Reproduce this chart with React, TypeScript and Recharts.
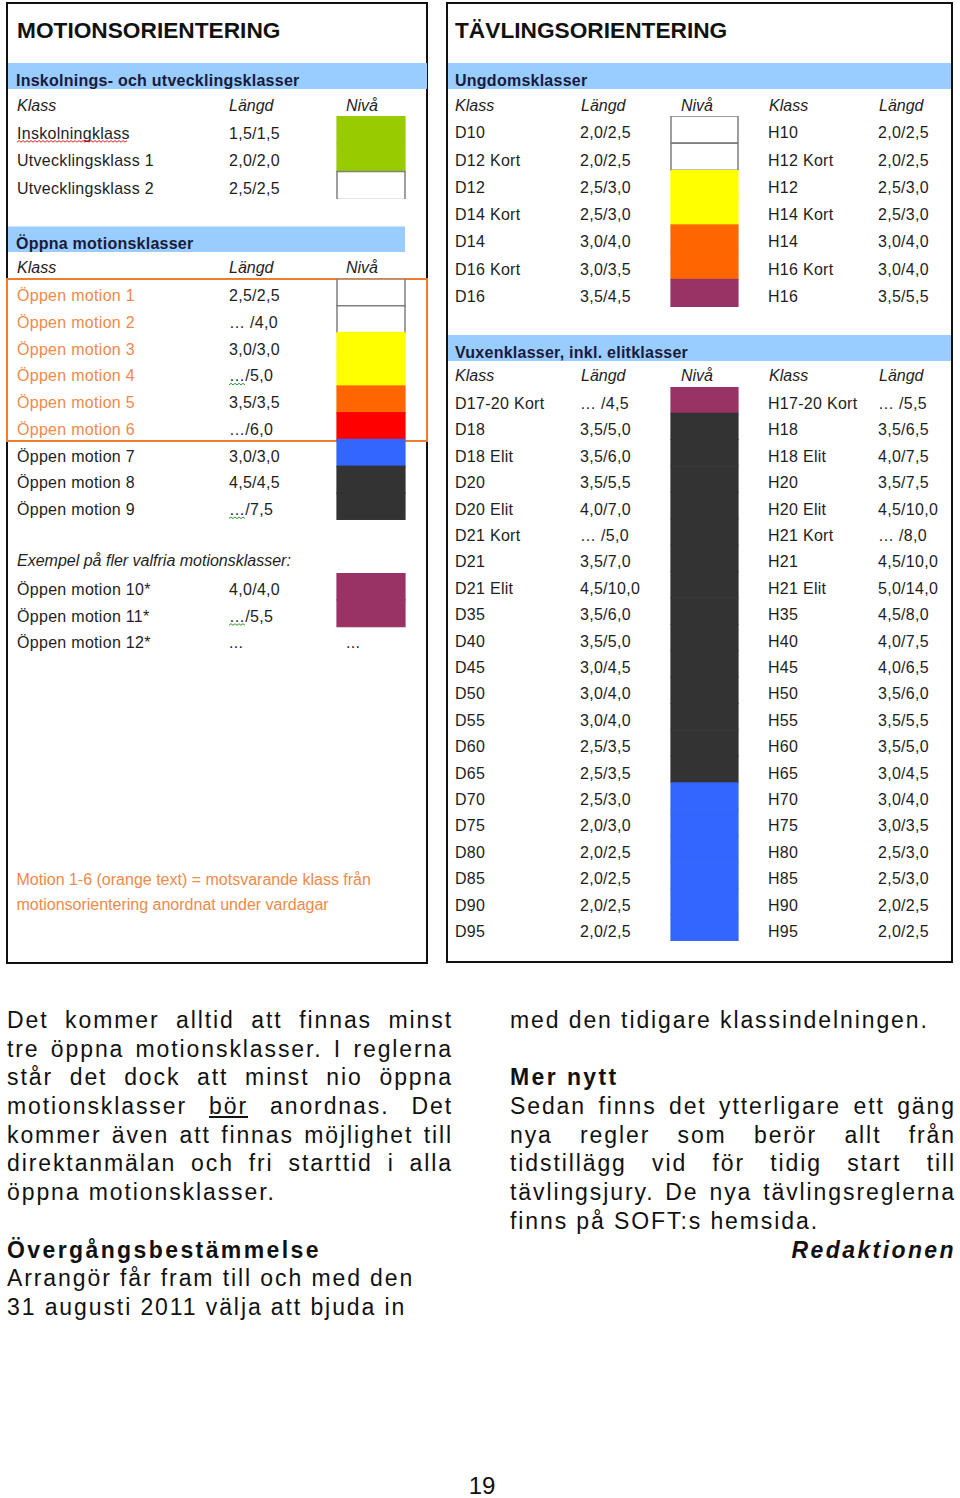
import React from 'react';
import { BarChart, Bar, XAxis, YAxis } from 'recharts';

const FONT = '"Liberation Sans", Arial, sans-serif';
const INK = '#1e1e1e';
const BAND_INK = '#1a1a3a';
const ORANGE_TEXT = '#ee8a4a';
const ORANGE_LINE = '#ed7d31';
const BAND = '#99ccff';

const nivaFarger: Record<string, string> = {
  vit: '#ffffff',
  gron: '#99cc00',
  gul: '#ffff00',
  orange: '#ff6600',
  rod: '#ff0000',
  bla: '#3366ff',
  svart: '#333333',
  lila: '#993366',
};

// Inskolnings- och utvecklingsklasser
const inskolKlass = ['Inskolningklass', 'Utvecklingsklass 1', 'Utvecklingsklass 2'];
const inskolLangd = ['1,5/1,5', '2,0/2,0', '2,5/2,5'];
const inskolNiva = ['gron', 'gron', 'vit'];

// Öppna motionsklasser
const oppnaKlass = [
  'Öppen motion 1', 'Öppen motion 2', 'Öppen motion 3', 'Öppen motion 4', 'Öppen motion 5',
  'Öppen motion 6', 'Öppen motion 7', 'Öppen motion 8', 'Öppen motion 9',
];
const oppnaLangd = ['2,5/2,5', '… /4,0', '3,0/3,0', '…/5,0', '3,5/3,5', '…/6,0', '3,0/3,0', '4,5/4,5', '…/7,5'];
const oppnaNiva = ['vit', 'vit', 'gul', 'gul', 'orange', 'rod', 'bla', 'svart', 'svart'];
const oppnaOrange = [true, true, true, true, true, true, false, false, false];
const oppnaVagig = [false, false, false, true, false, false, false, false, true];

// Exempel på fler valfria motionsklasser
const valfriaKlass = ['Öppen motion 10*', 'Öppen motion 11*', 'Öppen motion 12*'];
const valfriaLangd = ['4,0/4,0', '…/5,5', '...'];
const valfriaNiva: (string | null)[] = ['lila', 'lila', null];
const valfriaVagig = [false, true, false];

// Ungdomsklasser
const ungDKlass = ['D10', 'D12 Kort', 'D12', 'D14 Kort', 'D14', 'D16 Kort', 'D16'];
const ungDLangd = ['2,0/2,5', '2,0/2,5', '2,5/3,0', '2,5/3,0', '3,0/4,0', '3,0/3,5', '3,5/4,5'];
const ungNiva = ['vit', 'vit', 'gul', 'gul', 'orange', 'orange', 'lila'];
const ungHKlass = ['H10', 'H12 Kort', 'H12', 'H14 Kort', 'H14', 'H16 Kort', 'H16'];
const ungHLangd = ['2,0/2,5', '2,0/2,5', '2,5/3,0', '2,5/3,0', '3,0/4,0', '3,0/4,0', '3,5/5,5'];

// Vuxenklasser, inkl. elitklasser
const vuxDKlass = [
  'D17-20 Kort', 'D18', 'D18 Elit', 'D20', 'D20 Elit', 'D21 Kort', 'D21', 'D21 Elit', 'D35', 'D40', 'D45',
  'D50', 'D55', 'D60', 'D65', 'D70', 'D75', 'D80', 'D85', 'D90', 'D95',
];
const vuxDLangd = [
  '… /4,5', '3,5/5,0', '3,5/6,0', '3,5/5,5', '4,0/7,0', '… /5,0', '3,5/7,0', '4,5/10,0', '3,5/6,0', '3,5/5,0', '3,0/4,5',
  '3,0/4,0', '3,0/4,0', '2,5/3,5', '2,5/3,5', '2,5/3,0', '2,0/3,0', '2,0/2,5', '2,0/2,5', '2,0/2,5', '2,0/2,5',
];
const vuxNiva = [
  'lila', 'svart', 'svart', 'svart', 'svart', 'svart', 'svart', 'svart', 'svart', 'svart', 'svart',
  'svart', 'svart', 'svart', 'svart', 'bla', 'bla', 'bla', 'bla', 'bla', 'bla',
];
const vuxHKlass = [
  'H17-20 Kort', 'H18', 'H18 Elit', 'H20', 'H20 Elit', 'H21 Kort', 'H21', 'H21 Elit', 'H35', 'H40', 'H45',
  'H50', 'H55', 'H60', 'H65', 'H70', 'H75', 'H80', 'H85', 'H90', 'H95',
];
const vuxHLangd = [
  '… /5,5', '3,5/6,5', '4,0/7,5', '3,5/7,5', '4,5/10,0', '… /8,0', '4,5/10,0', '5,0/14,0', '4,5/8,0', '4,0/7,5', '4,0/6,5',
  '3,5/6,0', '3,5/5,5', '3,5/5,0', '3,0/4,5', '3,0/4,0', '3,0/3,5', '2,5/3,0', '2,5/3,0', '2,0/2,5', '2,0/2,5',
];

type Wavy = { color: string; width: number };
type TextCell = { x: number; text: string; fill?: string; wavy?: Wavy };
type Row = { key: string; cells: TextCell[]; niva: string | null };

// text columns
const L_KLASS = 17;
const L_LANGD = 229;
const L_NIVA = 346;
const R_DKLASS = 455;
const R_DLANGD = 580;
const R_HKLASS = 768;
const R_HLANGD = 878;

const RED_WAVE = '#e02020';
const GREEN_WAVE = '#2e9a2e';

// small zigzag like a spell-check mark
function squiggle(x: number, y: number, w: number) {
  let d = `M${x},${y}`;
  let up = true;
  for (let px = x + 2; px <= x + w; px += 2) {
    d += ` L${px},${up ? y - 1.6 : y}`;
    up = !up;
  }
  return d;
}

function CellText({ c, y }: { c: TextCell; y: number }) {
  const style = { fontFamily: FONT, fontSize: 16, letterSpacing: '0.3px' };
  return (
    <g>
      <text x={c.x} y={y} fill={c.fill || INK} style={style}>
        {c.text}
      </text>
      {c.wavy && <path d={squiggle(c.x, y + 3.5, c.wavy.width)} fill="none" stroke={c.wavy.color} strokeWidth={1} />}
    </g>
  );
}

function NivaShape(props: any) {
  const { x, y, width, height, payload } = props;
  if (!payload || !payload.niva) return <g />;
  const fill = nivaFarger[payload.niva];
  const white = payload.niva === 'vit';
  if (white) {
    return <rect x={x} y={y} width={width} height={height} fill={fill} stroke="#7f7f7f" strokeWidth={1.5} />;
  }
  // colored cells: same-colour stroke hides the seams between neighbouring rows
  return <rect x={x} y={y} width={width} height={height} fill={fill} stroke={fill} strokeWidth={1.2} />;
}

function LevelSection({
  rows, top, height, width, nivaLeft, nivaRight,
}: {
  rows: Row[]; top: number; height: number; width: number; nivaLeft: number; nivaRight: number;
}) {
  const data = rows.map(r => ({ key: r.key, value: r.niva ? 1 : null, niva: r.niva }));
  const renderTick = (props: any) => {
    const row = rows.find(r => r.key === props.payload?.value) || rows[props.index];
    if (!row) return <g />;
    return (
      <g>
        {row.cells.map((c, i) => (
          <CellText key={i} c={c} y={props.y + 8.8} />
        ))}
      </g>
    );
  };
  return (
    <div style={{ position: 'absolute', left: 0, top }}>
      <BarChart
        width={width}
        height={height}
        data={data}
        layout="vertical"
        margin={{ top: 0, right: width - nivaRight, bottom: 0, left: 0 }}
        barCategoryGap={0}
        barGap={0}
      >
        <XAxis type="number" domain={[0, 1]} hide />
        <YAxis
          type="category"
          dataKey="key"
          width={nivaLeft}
          axisLine={false}
          tickLine={false}
          interval={0}
          tick={renderTick}
        />
        <Bar dataKey="value" isAnimationActive={false} shape={NivaShape} />
      </BarChart>
    </div>
  );
}

const inskolRows: Row[] = inskolKlass.map((k, i) => ({
  key: k,
  niva: inskolNiva[i],
  cells: [
    { x: L_KLASS, text: k, wavy: i === 0 ? { color: RED_WAVE, width: 110 } : undefined },
    { x: L_LANGD, text: inskolLangd[i] },
  ],
}));

const oppnaRows: Row[] = oppnaKlass.map((k, i) => ({
  key: k,
  niva: oppnaNiva[i],
  cells: [
    { x: L_KLASS, text: k, fill: oppnaOrange[i] ? ORANGE_TEXT : INK },
    { x: L_LANGD, text: oppnaLangd[i], wavy: oppnaVagig[i] ? { color: GREEN_WAVE, width: 16 } : undefined },
  ],
}));

const valfriaRows: Row[] = valfriaKlass.map((k, i) => ({
  key: k,
  niva: valfriaNiva[i],
  cells: [
    { x: L_KLASS, text: k },
    { x: L_LANGD, text: valfriaLangd[i], wavy: valfriaVagig[i] ? { color: GREEN_WAVE, width: 16 } : undefined },
    ...(valfriaNiva[i] ? [] : [{ x: L_NIVA, text: '...' }]),
  ],
}));

const ungRows: Row[] = ungDKlass.map((k, i) => ({
  key: k,
  niva: ungNiva[i],
  cells: [
    { x: R_DKLASS, text: k },
    { x: R_DLANGD, text: ungDLangd[i] },
    { x: R_HKLASS, text: ungHKlass[i] },
    { x: R_HLANGD, text: ungHLangd[i] },
  ],
}));

const vuxRows: Row[] = vuxDKlass.map((k, i) => ({
  key: k,
  niva: vuxNiva[i],
  cells: [
    { x: R_DKLASS, text: k },
    { x: R_DLANGD, text: vuxDLangd[i] },
    { x: R_HKLASS, text: vuxHKlass[i] },
    { x: R_HLANGD, text: vuxHLangd[i] },
  ],
}));

function Header({ y, items }: { y: number; items: [number, string][] }) {
  return (
    <g>
      {items.map(([x, t]) => (
        <text key={x} x={x} y={y} fill={INK} style={{ fontFamily: FONT, fontSize: 16, fontStyle: 'italic' }}>
          {t}
        </text>
      ))}
    </g>
  );
}

function BandTitle({ x, y, text }: { x: number; y: number; text: string }) {
  return (
    <text x={x} y={y} fill={BAND_INK} style={{ fontFamily: FONT, fontSize: 16, fontWeight: 'bold', letterSpacing: '0.25px' }}>
      {text}
    </text>
  );
}

const LINE_H = 28.7;

function JLine({ text }: { text: string }) {
  const words = text.split(' ');
  return (
    <div style={{ display: 'flex', justifyContent: 'space-between', height: LINE_H, whiteSpace: 'nowrap' }}>
      {words.map((w, i) =>
        w.startsWith('_') ? (
          <span key={i} style={{ textDecoration: 'underline' }}>{w.slice(1)}</span>
        ) : (
          <span key={i}>{w}</span>
        ),
      )}
    </div>
  );
}

function PLine({ children, style }: { children?: React.ReactNode; style?: React.CSSProperties }) {
  return <div style={{ height: LINE_H, whiteSpace: 'nowrap', ...style }}>{children}</div>;
}

const bodyStyle: React.CSSProperties = {
  position: 'absolute',
  top: 1006,
  width: 446,
  fontFamily: FONT,
  fontSize: 23,
  letterSpacing: '1.9px',
  lineHeight: `${LINE_H}px`,
  color: '#111',
};

const boldHead: React.CSSProperties = { fontWeight: 'bold', letterSpacing: '2.4px' };

export default function App() {
  return (
    <div style={{ position: 'absolute', left: 0, top: 0, width: 960, height: 1498, background: '#fff' }}>
      <svg width={960} height={970} style={{ position: 'absolute', left: 0, top: 0 }}>
        {/* panels */}
        <rect x={7} y={3} width={420} height={960} fill="none" stroke="#111" strokeWidth={2} />
        <rect x={447} y={3} width={505} height={959} fill="none" stroke="#111" strokeWidth={2} />

        <text x={17} y={38} fill="#111" style={{ fontFamily: FONT, fontSize: 22.7, fontWeight: 'bold' }}>
          MOTIONSORIENTERING
        </text>
        <text x={455} y={38} fill="#111" style={{ fontFamily: FONT, fontSize: 22.7, fontWeight: 'bold' }}>
          TÄVLINGSORIENTERING
        </text>

        {/* left bands */}
        <rect x={8} y={63} width={419} height={26} fill={BAND} />
        <BandTitle x={16} y={86} text="Inskolnings- och utvecklingsklasser" />
        <Header y={110.5} items={[[L_KLASS, 'Klass'], [L_LANGD, 'Längd'], [L_NIVA, 'Nivå']]} />

        <rect x={8} y={226.5} width={397} height={25.5} fill={BAND} />
        <BandTitle x={16} y={249} text="Öppna motionsklasser" />
        <Header y={272.5} items={[[L_KLASS, 'Klass'], [L_LANGD, 'Längd'], [L_NIVA, 'Nivå']]} />
        <rect x={7} y={279} width={420} height={162} fill="none" stroke={ORANGE_LINE} strokeWidth={2} />

        <text x={17} y={566} fill={INK} style={{ fontFamily: FONT, fontSize: 16, fontStyle: 'italic' }}>
          Exempel på fler valfria motionsklasser:
        </text>

        <text x={16.5} y={884.5} fill={ORANGE_TEXT} style={{ fontFamily: FONT, fontSize: 16 }}>
          Motion 1-6 (orange text) = motsvarande klass från
        </text>
        <text x={16.5} y={910} fill={ORANGE_TEXT} style={{ fontFamily: FONT, fontSize: 16 }}>
          motionsorientering anordnat  under vardagar
        </text>

        {/* right bands */}
        <rect x={448} y={63} width={503} height={26} fill={BAND} />
        <BandTitle x={455} y={86} text="Ungdomsklasser" />
        <Header
          y={111}
          items={[[R_DKLASS, 'Klass'], [R_DLANGD + 1, 'Längd'], [681, 'Nivå'], [R_HKLASS + 1, 'Klass'], [R_HLANGD + 1, 'Längd']]}
        />
        <rect x={448} y={335} width={503} height={26} fill={BAND} />
        <BandTitle x={455} y={357.5} text="Vuxenklasser, inkl. elitklasser" />
        <Header
          y={381}
          items={[[R_DKLASS, 'Klass'], [R_DLANGD + 1, 'Längd'], [681, 'Nivå'], [R_HKLASS + 1, 'Klass'], [R_HLANGD + 1, 'Längd']]}
        />
      </svg>

      <LevelSection rows={inskolRows} top={115.7} height={83.3} width={430} nivaLeft={337} nivaRight={405} />
      <LevelSection rows={oppnaRows} top={279.3} height={240.7} width={430} nivaLeft={337} nivaRight={405} />
      <LevelSection rows={valfriaRows} top={572.7} height={80} width={430} nivaLeft={337} nivaRight={405} />
      <LevelSection rows={ungRows} top={116} height={190.7} width={960} nivaLeft={671} nivaRight={738} />
      <LevelSection rows={vuxRows} top={386.7} height={554.3} width={960} nivaLeft={671} nivaRight={738} />

      {/* body text, left column */}
      <div style={{ ...bodyStyle, left: 7 }}>
        <JLine text="Det kommer alltid att finnas minst" />
        <JLine text="tre öppna motionsklasser. I reglerna" />
        <JLine text="står det dock att minst nio öppna" />
        <JLine text="motionsklasser _bör anordnas. Det" />
        <JLine text="kommer även att finnas möjlighet till" />
        <JLine text="direktanmälan och fri starttid i alla" />
        <PLine>öppna motionsklasser.</PLine>
        <PLine />
        <PLine style={boldHead}>Övergångsbestämmelse</PLine>
        <PLine>Arrangör får fram till och med den</PLine>
        <PLine>31 augusti 2011 välja att bjuda in</PLine>
      </div>

      {/* body text, right column */}
      <div style={{ ...bodyStyle, left: 510 }}>
        <PLine>med den tidigare klassindelningen.</PLine>
        <PLine />
        <PLine style={boldHead}>Mer nytt</PLine>
        <JLine text="Sedan finns det ytterligare ett gäng" />
        <JLine text="nya regler som berör allt från" />
        <JLine text="tidstillägg vid för tidig start till" />
        <JLine text="tävlingsjury. De nya tävlingsreglerna" />
        <PLine>finns på SOFT:s hemsida.</PLine>
        <PLine style={{ ...boldHead, fontStyle: 'italic', textAlign: 'right' }}>Redaktionen</PLine>
      </div>

      <svg width={960} height={58} style={{ position: 'absolute', left: 0, top: 1440 }}>
        <text x={482} y={54} textAnchor="middle" fill="#111" style={{ fontFamily: FONT, fontSize: 24 }}>
          19
        </text>
      </svg>
    </div>
  );
}
